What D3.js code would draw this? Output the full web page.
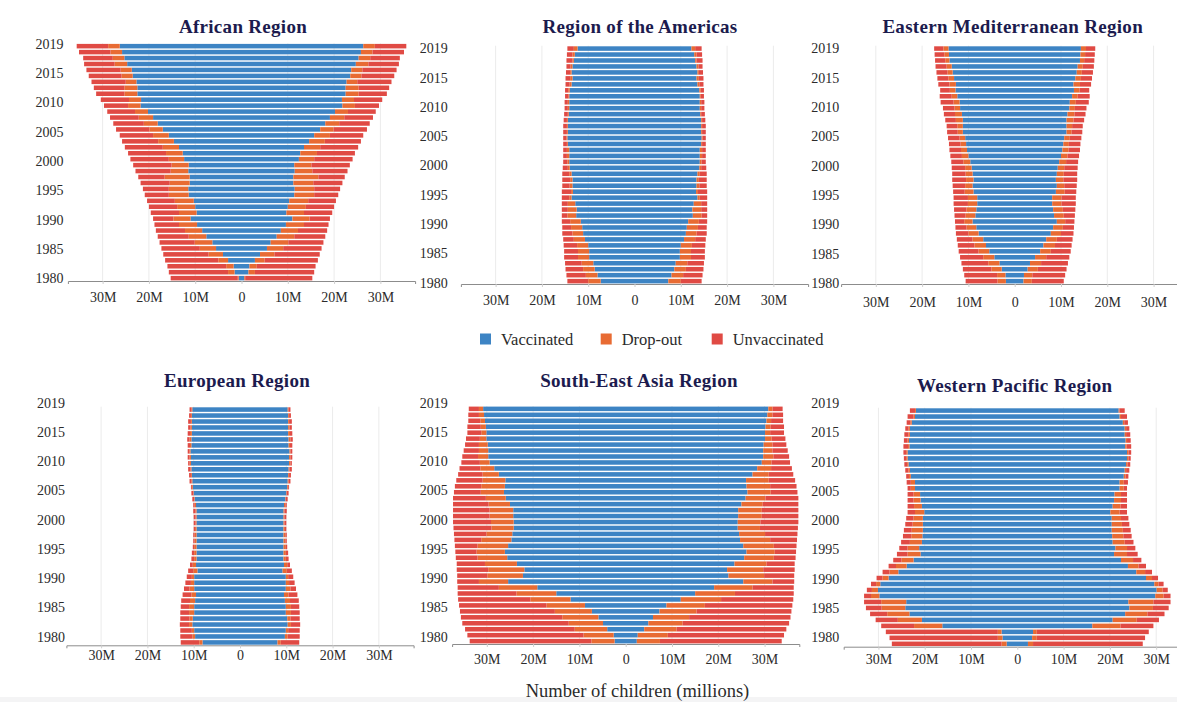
<!DOCTYPE html>
<html>
<head>
<meta charset="utf-8">
<script src="https://cdn.jsdelivr.net/npm/d3@7"></script>
<style>
  body { margin: 0; background: #fff; }
  text { font-family: "Liberation Serif", "DejaVu Serif", serif; }
</style>
</head>
<body>
<div id="chart"></div>
<script>
const width = 1177;
const height = 702;

const years = [1980, 1981, 1982, 1983, 1984, 1985, 1986, 1987, 1988, 1989,
  1990, 1991, 1992, 1993, 1994, 1995, 1996, 1997, 1998, 1999,
  2000, 2001, 2002, 2003, 2004, 2005, 2006, 2007, 2008, 2009,
  2010, 2011, 2012, 2013, 2014, 2015, 2016, 2017, 2018, 2019];
const yearLabels = ["1980", "1985", "1990", "1995", "2000", "2005", "2010", "2015", "2019"];
const xTicks = [-30, -20, -10, 0, 10, 20, 30];
const categories = ["Vaccinated", "Drop-out", "Unvaccinated"];
const colors = ["#3d84c4", "#e86b33", "#e04a44"];

// millions of children, 1980 -> 2019
const africaVaccinated = [0.6, 1.5, 1.7, 2.9, 4.0, 5.5, 6.3, 7.6, 8.5, 9.6, 11.0, 9.7, 10.0, 10.3, 11.4, 11.5, 11.2, 11.2, 11.5, 11.4, 12.4, 12.7, 13.5, 14.6, 15.7, 17.0, 18.1, 19.1, 20.2, 21.8, 21.7, 22.5, 22.5, 22.7, 23.5, 23.7, 24.7, 25.3, 25.8, 26.3];
const africaDropout = [0.2, 1.4, 1.6, 2.1, 3.1, 3.5, 3.8, 3.8, 3.7, 3.9, 3.7, 3.8, 3.9, 4.1, 4.3, 4.2, 4.3, 5.4, 3.8, 3.7, 3.3, 3.6, 3.5, 3.4, 3.4, 2.9, 3.0, 3.1, 2.8, 2.7, 2.6, 2.8, 2.8, 2.3, 2.4, 2.4, 2.7, 2.5, 2.5, 2.5];
const africaUnvaccinated = [14.5, 12.8, 12.7, 11.5, 9.8, 8.3, 7.6, 6.7, 6.3, 5.3, 4.4, 6.1, 6.1, 6.0, 5.2, 5.6, 6.3, 5.7, 7.6, 8.3, 8.3, 8.2, 8.2, 7.8, 7.2, 7.2, 6.6, 6.2, 6.0, 5.2, 6.1, 6.1, 6.6, 7.4, 7.1, 7.4, 6.6, 6.4, 6.8, 6.8];

const americasVaccinated = [7.3, 8.0, 8.6, 8.9, 9.8, 9.8, 10.0, 10.7, 11.1, 11.3, 11.6, 12.6, 12.5, 12.8, 13.6, 13.3, 13.4, 13.4, 13.6, 14.0, 14.1, 14.1, 14.1, 14.4, 14.5, 14.4, 14.4, 14.4, 14.2, 14.1, 14.1, 14.1, 14.0, 13.6, 13.4, 13.6, 13.4, 13.1, 12.9, 12.3];
const americasDropout = [2.7, 2.5, 2.5, 2.5, 2.4, 2.4, 2.4, 2.4, 2.3, 2.4, 2.3, 1.9, 1.9, 1.6, 0.5, 0.4, 0.6, 0.5, 0.5, 0.4, 0.4, 0.5, 0.5, 0.2, 0.2, 0.2, 0.2, 0.2, 0.2, 0.3, 0.3, 0.2, 0.3, 0.4, 0.5, 0.3, 0.4, 0.3, 0.5, 0.8];
const americasUnvaccinated = [4.5, 4.2, 3.8, 3.6, 3.0, 3.0, 2.9, 2.3, 2.2, 1.9, 1.8, 1.2, 1.3, 1.3, 1.6, 2.0, 1.6, 1.7, 1.5, 1.1, 0.9, 0.8, 0.8, 0.8, 0.7, 0.8, 0.8, 0.7, 0.8, 0.7, 0.7, 0.7, 0.7, 0.9, 1.0, 0.9, 0.9, 1.3, 1.2, 1.4];

const emedVaccinated = [1.9, 2.0, 2.8, 3.3, 4.4, 5.5, 6.2, 6.8, 7.8, 8.3, 9.1, 8.5, 8.3, 8.1, 8.1, 8.9, 9.1, 8.9, 9.1, 9.3, 9.6, 10.0, 10.3, 10.5, 10.7, 11.2, 11.2, 11.2, 11.4, 11.8, 11.9, 12.4, 12.8, 12.7, 13.1, 13.4, 13.6, 14.1, 14.2, 14.3];
const emedDropout = [1.8, 1.8, 2.2, 2.4, 2.4, 2.3, 2.5, 2.3, 2.2, 2.1, 1.8, 2.1, 2.1, 2.0, 2.0, 1.9, 1.6, 1.6, 1.5, 1.4, 1.5, 1.4, 1.3, 1.2, 1.2, 1.1, 1.2, 1.5, 1.5, 1.2, 1.3, 1.2, 1.2, 1.4, 1.2, 1.1, 1.1, 0.9, 1.0, 1.1];
const emedUnvaccinated = [6.9, 7.1, 6.2, 5.8, 5.0, 4.3, 3.6, 3.4, 2.7, 2.4, 2.0, 2.4, 2.7, 3.1, 3.1, 2.5, 2.7, 3.0, 2.9, 2.9, 2.6, 2.5, 2.5, 2.5, 2.5, 2.3, 2.3, 2.3, 2.4, 2.5, 2.8, 2.6, 2.1, 2.4, 2.4, 2.4, 2.4, 2.2, 2.1, 2.0];

const europeVaccinated = [8.1, 9.7, 9.9, 10.3, 10.2, 9.9, 9.9, 9.7, 9.5, 9.9, 9.9, 9.9, 9.2, 9.5, 9.4, 9.4, 9.4, 9.4, 9.4, 9.4, 9.4, 9.4, 9.4, 9.5, 9.8, 10.0, 10.2, 10.3, 10.4, 10.5, 10.6, 10.6, 10.7, 10.5, 10.5, 10.4, 10.4, 10.4, 10.4, 10.3];
const europeDropout = [0.7, 0.6, 0.5, 0.7, 0.7, 1.1, 1.1, 1.1, 1.0, 1.0, 0.7, 0.5, 0.9, 0.7, 0.5, 0.5, 0.5, 0.4, 0.4, 0.3, 0.2, 0.2, 0.2, 0.3, 0.1, 0.1, 0.2, 0.2, 0.2, 0.2, 0.3, 0.3, 0.2, 0.3, 0.4, 0.4, 0.3, 0.2, 0.2, 0.2];
const europeUnvaccinated = [4.0, 2.6, 2.5, 2.0, 2.0, 1.9, 1.8, 1.9, 1.9, 1.2, 1.2, 1.1, 1.1, 0.6, 0.6, 0.5, 0.3, 0.3, 0.3, 0.3, 0.4, 0.4, 0.5, 0.3, 0.4, 0.4, 0.2, 0.4, 0.4, 0.5, 0.3, 0.4, 0.4, 0.5, 0.5, 0.5, 0.5, 0.6, 0.4, 0.4];

const seasiaVaccinated = [2.4, 2.6, 4.0, 4.9, 5.9, 7.3, 8.8, 11.9, 15.0, 19.1, 25.4, 22.2, 21.9, 23.5, 25.6, 26.1, 25.4, 24.7, 24.5, 24.2, 24.2, 24.3, 24.3, 25.0, 25.9, 26.3, 26.1, 26.0, 27.4, 28.4, 29.4, 29.7, 29.7, 29.8, 30.1, 30.1, 30.2, 30.4, 30.6, 30.8];
const seasiaDropout = [5.0, 6.5, 7.0, 7.4, 7.8, 8.0, 8.3, 8.7, 8.6, 8.3, 6.3, 7.7, 7.8, 6.9, 6.4, 6.1, 6.6, 6.5, 5.6, 4.8, 4.9, 5.1, 5.1, 4.6, 4.3, 5.0, 5.1, 4.9, 3.5, 3.0, 2.1, 2.2, 2.0, 1.9, 1.4, 1.1, 1.1, 1.0, 1.1, 0.9];
const seasiaUnvaccinated = [26.3, 25.1, 23.7, 23.0, 21.9, 20.5, 18.9, 15.6, 12.7, 8.9, 4.7, 6.5, 6.8, 6.1, 4.7, 4.6, 4.9, 5.8, 7.0, 8.2, 8.2, 7.9, 7.9, 7.7, 7.1, 5.8, 5.7, 5.7, 5.3, 4.5, 4.0, 3.4, 3.3, 3.0, 3.0, 3.0, 2.9, 2.6, 2.3, 2.2];

const wpacVaccinated = [2.3, 3.2, 3.4, 16.2, 20.6, 23.3, 24.2, 24.0, 29.8, 30.1, 29.6, 27.8, 25.7, 23.9, 22.4, 20.9, 21.2, 20.6, 20.5, 20.4, 20.4, 20.4, 20.1, 20.6, 20.9, 21.0, 22.1, 22.1, 23.0, 23.2, 23.5, 23.7, 23.7, 23.3, 23.4, 23.2, 23.2, 22.8, 22.1, 21.9];
const wpacDropout = [1.1, 1.0, 0.8, 6.1, 5.2, 4.8, 5.1, 5.4, 1.8, 1.3, 0.9, 1.3, 1.9, 2.3, 2.6, 2.8, 2.5, 2.6, 2.4, 2.4, 2.2, 2.0, 2.0, 1.7, 1.5, 1.4, 0.9, 0.9, 0.4, 0.3, 0.3, 0.3, 0.3, 0.3, 0.3, 0.3, 0.3, 0.3, 0.3, 0.2];
const wpacUnvaccinated = [23.7, 23.4, 24.2, 7.1, 4.8, 3.7, 3.4, 3.7, 1.5, 1.1, 1.1, 1.3, 1.5, 1.6, 1.8, 2.3, 1.8, 1.9, 1.8, 1.7, 1.6, 1.6, 1.6, 1.4, 1.3, 1.3, 0.7, 0.9, 0.6, 0.7, 0.6, 0.5, 0.6, 1.0, 0.8, 0.9, 0.7, 0.8, 1.3, 1.1];

const regions = [
  { name: "African Region", v: africaVaccinated, d: africaDropout, u: africaUnvaccinated },
  { name: "Region of the Americas", v: americasVaccinated, d: americasDropout, u: americasUnvaccinated },
  { name: "Eastern Mediterranean Region", v: emedVaccinated, d: emedDropout, u: emedUnvaccinated },
  { name: "European Region", v: europeVaccinated, d: europeDropout, u: europeUnvaccinated },
  { name: "South-East Asia Region", v: seasiaVaccinated, d: seasiaDropout, u: seasiaUnvaccinated },
  { name: "Western Pacific Region", v: wpacVaccinated, d: wpacDropout, u: wpacUnvaccinated }
];

// panel placement (pixels)
const layout = [
  { zero: 241.5, top: 43.3, bottom: 281, labelX: 63.5, labelTop: 44, labelBottom: 278.3, titleX: 243, titleY: 26, tickPad: 7.7 },
  { zero: 634.5, top: 45.7, bottom: 284, labelX: 447.7, labelTop: 48.3, labelBottom: 282.7, titleX: 640, titleY: 26, tickPad: 8 },
  { zero: 1014.7, top: 45.7, bottom: 284, labelX: 839.3, labelTop: 48.3, labelBottom: 283.3, titleX: 1012.7, titleY: 26, tickPad: 9.7 },
  { zero: 240, top: 406.7, bottom: 645.3, labelX: 65, labelTop: 402.7, labelBottom: 636.7, titleX: 237, titleY: 380, tickPad: 2 },
  { zero: 625.7, top: 406, bottom: 644, labelX: 447.7, labelTop: 402.7, labelBottom: 636.7, titleX: 639, titleY: 380, tickPad: 7 },
  { zero: 1017.3, top: 407.7, bottom: 646.7, labelX: 839.3, labelTop: 403.3, labelBottom: 637.3, titleX: 1014.7, titleY: 385, tickPad: 4.3 }
];
const halfRange = 173.6;

const svg = d3.select("#chart")
  .append("svg")
  .attr("width", width)
  .attr("height", height);

svg.append("rect")
  .attr("x", 0).attr("y", 697)
  .attr("width", width).attr("height", 5)
  .attr("fill", "#f4f4f5");

const stack = d3.stack().keys([0, 1, 2]);

regions.forEach((region, idx) => {
  const L = layout[idx];
  const g = svg.append("g");

  const x = d3.scaleLinear()
    .domain([-37.5, 37.5])
    .range([L.zero - halfRange, L.zero + halfRange]);
  const y = d3.scaleBand()
    .domain(years)
    .range([L.bottom, L.top])
    .paddingInner(0.24)
    .paddingOuter(0.1);
  const yLabel = d3.scalePoint()
    .domain(yearLabels)
    .range([L.labelBottom, L.labelTop]);

  // grid
  g.selectAll(".grid")
    .data(xTicks.filter(t => t !== 0))
    .enter()
    .append("line")
    .attr("x1", d => x(d)).attr("x2", d => x(d))
    .attr("y1", L.top).attr("y2", L.bottom)
    .attr("stroke", "#ebebeb")
    .attr("stroke-width", 1);

  const rows = years.map((yr, i) => [region.v[i], region.d[i], region.u[i]]);
  const series = stack(rows);

  series.forEach((layer, k) => {
    const lg = g.append("g").attr("fill", colors[k]);
    layer.forEach((seg, i) => {
      const yy = y(years[i]);
      if (k === 0) {
        lg.append("rect")
          .attr("x", x(-seg[1]))
          .attr("y", yy)
          .attr("width", x(seg[1]) - x(-seg[1]))
          .attr("height", y.bandwidth());
      } else {
        lg.append("rect")
          .attr("x", x(-seg[1]))
          .attr("y", yy)
          .attr("width", x(-seg[0]) - x(-seg[1]))
          .attr("height", y.bandwidth());
        lg.append("rect")
          .attr("x", x(seg[0]))
          .attr("y", yy)
          .attr("width", x(seg[1]) - x(seg[0]))
          .attr("height", y.bandwidth());
      }
    });
  });

  // x axis
  const axis = d3.axisBottom(x)
    .tickValues(xTicks)
    .tickSize(3)
    .tickPadding(L.tickPad)
    .tickFormat(d => d === 0 ? "0" : Math.abs(d) + "M");
  const ax = g.append("g")
    .attr("transform", `translate(0,${L.bottom})`)
    .call(axis);
  ax.select(".domain").attr("stroke", "#8c8c8c");
  ax.selectAll(".tick line").attr("stroke", "#cfcfcf");
  ax.selectAll(".tick text")
    .style("font-family", "Liberation Serif, serif")
    .style("font-size", "14px")
    .attr("fill", "#2b2b2b");

  // year labels
  g.selectAll(".ylab")
    .data(yearLabels)
    .enter()
    .append("text")
    .attr("x", L.labelX)
    .attr("y", d => yLabel(d))
    .attr("dy", "0.35em")
    .attr("text-anchor", "end")
    .style("font-size", "14px")
    .attr("fill", "#2b2b2b")
    .text(d => d);

  // title
  g.append("text")
    .attr("x", L.titleX)
    .attr("y", L.titleY)
    .attr("dy", "0.35em")
    .attr("text-anchor", "middle")
    .style("font-size", "19px")
    .style("font-weight", "bold")
    .style("letter-spacing", "0.3px")
    .attr("fill", "#1c1b4e")
    .text(region.name);
});

// legend
const legendX = [480, 600.7, 711.7];
const legend = svg.append("g");
categories.forEach((c, i) => {
  legend.append("rect")
    .attr("x", legendX[i]).attr("y", 333.5)
    .attr("width", 11).attr("height", 11)
    .attr("fill", colors[i]);
  legend.append("text")
    .attr("x", legendX[i] + 21)
    .attr("y", 339.5)
    .attr("dy", "0.35em")
    .style("font-size", "16.5px")
    .attr("fill", "#2b2b2b")
    .text(c);
});

svg.append("text")
  .attr("x", 637.5)
  .attr("y", 691)
  .attr("dy", "0.35em")
  .attr("text-anchor", "middle")
  .style("font-size", "18.5px")
  .attr("fill", "#2b2b2b")
  .text("Number of children (millions)");
</script>
</body>
</html>
